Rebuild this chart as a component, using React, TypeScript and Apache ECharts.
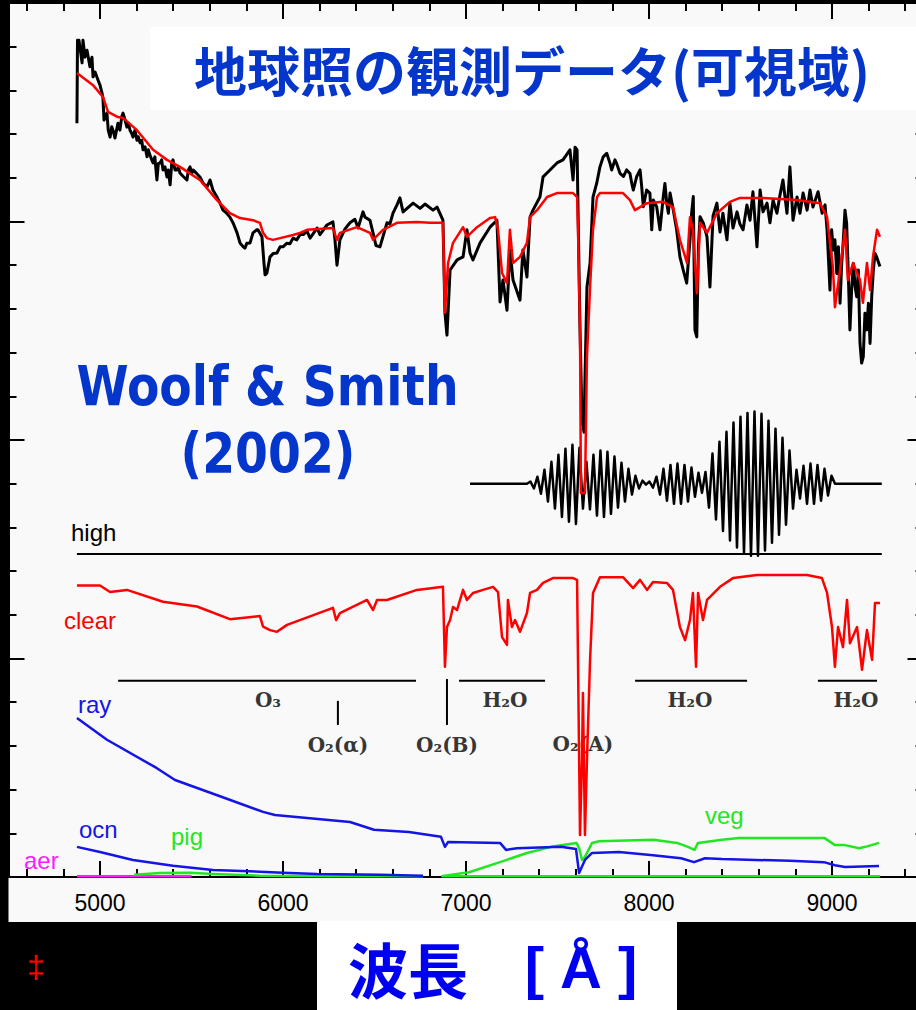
import React, { useEffect, useRef } from "react";
import * as echarts from "echarts";

// ---------- axes ----------
const X_MIN = 4500;
const X_MAX = 9500;
const xTickValues = [4600, 4800, 5000, 5200, 5400, 5600, 5800, 6000, 6200, 6400, 6600, 6800, 7000, 7200, 7400, 7600, 7800, 8000, 8200, 8400, 8600, 8800, 9000, 9200, 9400];
const xLabelValues = [5000, 6000, 7000, 8000, 9000];
const Y_MIN = 0;
const Y_MAX = 20;

// ---------- observed earthshine spectrum (black, top) ----------
const observed: [number, number][] = [
  [4874, 17.25], [4877, 19.15], [4885, 19.15], [4902, 18.63], [4907, 19.15], [4918, 18.76], [4929, 18.92], [4945, 18.54],
  [4956, 18.76], [4962, 18.31], [4973, 18.42], [4989, 18.24], [5000, 18.12], [5011, 17.94], [5016, 17.83], [5022, 17.32],
  [5038, 17.48], [5045, 17.09], [5055, 16.93], [5064, 17.17], [5071, 17.09], [5082, 16.91], [5098, 17.25], [5109, 17.09],
  [5119, 17.40], [5126, 17.48], [5137, 17.32], [5147, 17.16], [5155, 17.25], [5164, 17.09], [5173, 17.02], [5180, 16.93],
  [5191, 17.09], [5202, 16.86], [5209, 16.94], [5219, 16.80], [5228, 16.86], [5235, 16.64], [5246, 16.71], [5257, 16.48],
  [5264, 16.64], [5273, 16.52], [5283, 16.41], [5290, 16.34], [5300, 16.48], [5305, 16.22], [5311, 15.95], [5319, 16.33],
  [5328, 16.34], [5337, 16.41], [5344, 16.18], [5355, 16.25], [5366, 16.02], [5373, 16.18], [5383, 15.84], [5392, 16.33],
  [5399, 16.41], [5410, 16.18], [5421, 16.18], [5428, 16.25], [5437, 16.11], [5455, 16.03], [5475, 15.95], [5483, 16.18],
  [5492, 16.25], [5501, 16.10], [5508, 16.18], [5528, 16.10], [5546, 16.02], [5564, 15.87], [5585, 15.79], [5601, 15.95],
  [5617, 15.72], [5639, 15.56], [5656, 15.42], [5672, 15.26], [5692, 15.19], [5710, 15.10], [5728, 14.96], [5749, 14.74],
  [5765, 14.51], [5783, 14.42], [5792, 14.39], [5802, 14.50], [5820, 14.51], [5836, 14.74], [5856, 14.81], [5863, 14.81],
  [5874, 14.73], [5885, 14.65], [5896, 14.05], [5902, 13.78], [5912, 13.82], [5929, 14.19], [5947, 14.27], [5967, 14.28],
  [5984, 14.42], [6000, 14.42], [6020, 14.50], [6038, 14.49], [6055, 14.62], [6075, 14.58], [6093, 14.70], [6111, 14.70],
  [6131, 14.78], [6148, 14.62], [6186, 14.85], [6202, 14.70], [6240, 14.92], [6273, 14.99], [6284, 14.58], [6295, 14.00],
  [6311, 14.58], [6339, 14.83], [6366, 14.97], [6393, 15.05], [6410, 14.85], [6437, 15.22], [6448, 15.10], [6475, 15.03],
  [6492, 14.74], [6508, 14.45], [6530, 14.42], [6568, 14.97], [6585, 14.95], [6601, 15.19], [6623, 15.38], [6639, 15.54],
  [6656, 15.22], [6678, 15.30], [6711, 15.42], [6749, 15.30], [6776, 15.40], [6820, 15.26], [6842, 15.33], [6874, 15.03],
  [6885, 12.91], [6896, 12.40], [6913, 13.89], [6951, 14.12], [6984, 14.19], [7005, 14.81], [7022, 14.28], [7038, 14.12],
  [7077, 14.51], [7131, 14.87], [7169, 15.03], [7186, 13.16], [7202, 13.66], [7224, 12.97], [7240, 14.35], [7257, 13.66],
  [7295, 13.20], [7311, 14.35], [7333, 13.73], [7350, 15.10], [7366, 15.26], [7404, 15.56], [7421, 16.02], [7459, 16.18],
  [7497, 16.34], [7530, 16.41], [7568, 16.64], [7585, 15.95], [7596, 16.70], [7607, 16.64], [7612, 15.33], [7623, 12.52],
  [7634, 10.46], [7645, 10.18], [7650, 11.37], [7661, 13.50], [7678, 14.05], [7694, 15.56], [7714, 15.87], [7732, 16.25],
  [7750, 16.48], [7769, 16.56], [7787, 16.33], [7796, 16.18], [7814, 16.41], [7823, 16.33], [7842, 16.10], [7860, 16.03],
  [7878, 16.18], [7896, 16.10], [7906, 15.87], [7914, 15.72], [7933, 16.03], [7951, 16.18], [7960, 15.80], [7969, 15.34],
  [7987, 15.72], [8005, 15.65], [8015, 14.81], [8024, 15.49], [8042, 15.34], [8060, 14.81], [8078, 15.57], [8087, 15.87],
  [8097, 15.42], [8106, 15.19], [8115, 15.65], [8133, 15.26], [8151, 14.81], [8169, 14.19], [8187, 13.89], [8206, 13.59],
  [8224, 14.58], [8233, 15.19], [8242, 15.57], [8251, 12.52], [8261, 12.36], [8270, 14.42], [8279, 15.11], [8297, 14.96],
  [8317, 14.65], [8333, 13.50], [8350, 15.13], [8371, 15.42], [8388, 14.76], [8404, 15.19], [8426, 14.58], [8442, 15.42],
  [8459, 14.85], [8481, 15.22], [8497, 14.94], [8514, 14.81], [8535, 15.38], [8552, 15.03], [8568, 15.68], [8590, 14.42],
  [8607, 15.72], [8623, 15.22], [8645, 15.42], [8661, 14.97], [8678, 15.49], [8699, 15.19], [8716, 15.61], [8732, 15.95],
  [8754, 15.19], [8770, 16.25], [8787, 15.03], [8809, 15.56], [8825, 15.19], [8842, 15.65], [8864, 15.26], [8880, 15.72],
  [8896, 15.33], [8924, 15.68], [8946, 15.19], [8962, 15.38], [8973, 14.81], [8989, 13.43], [8998, 14.81], [9007, 14.35],
  [9016, 14.58], [9026, 13.81], [9035, 14.42], [9044, 13.13], [9053, 14.04], [9062, 14.58], [9071, 15.26], [9080, 14.96],
  [9089, 13.81], [9098, 12.52], [9108, 13.51], [9117, 14.04], [9126, 13.51], [9135, 13.28], [9144, 13.89], [9153, 12.21],
  [9162, 11.76], [9171, 11.91], [9180, 12.90], [9190, 12.52], [9199, 13.13], [9208, 12.21], [9217, 13.28], [9226, 13.89],
  [9235, 14.27], [9244, 14.19], [9262, 13.97],
];

// ---------- model fit (red, top) ----------
const model: [number, number][] = [
  [4874, 18.40], [4962, 18.12], [5016, 17.85], [5044, 17.51], [5098, 17.39], [5126, 17.37], [5202, 17.09], [5290, 16.64],
  [5366, 16.41], [5437, 16.25], [5546, 15.95], [5639, 15.49], [5710, 15.19], [5765, 15.08], [5836, 15.03], [5874, 14.97],
  [5891, 14.74], [5912, 14.62], [5945, 14.58], [5984, 14.62], [6055, 14.69], [6093, 14.74], [6131, 14.81], [6273, 14.85],
  [6295, 14.58], [6311, 14.74], [6404, 14.87], [6475, 14.74], [6492, 14.58], [6546, 14.81], [6623, 14.97], [6732, 14.99],
  [6803, 14.97], [6874, 14.97], [6885, 12.91], [6902, 14.05], [6929, 14.51], [6984, 14.87], [7005, 14.65], [7060, 14.87],
  [7131, 15.08], [7159, 15.10], [7175, 14.81], [7197, 13.82], [7224, 13.59], [7240, 14.81], [7257, 14.05], [7295, 14.19],
  [7333, 14.51], [7350, 15.10], [7388, 15.26], [7443, 15.56], [7497, 15.65], [7585, 15.65], [7607, 15.56], [7612, 14.81],
  [7623, 12.52], [7628, 8.79], [7650, 8.79], [7661, 11.90], [7678, 13.50], [7694, 14.81], [7716, 15.56], [7732, 15.65],
  [7858, 15.65], [7896, 15.49], [7923, 15.26], [7989, 15.42], [8076, 15.45], [8131, 15.33], [8169, 14.58], [8208, 14.05],
  [8224, 15.10], [8240, 14.81], [8262, 13.36], [8279, 14.97], [8317, 14.74], [8371, 15.19], [8442, 15.45], [8497, 15.54],
  [8623, 15.54], [8809, 15.49], [8934, 15.42], [8973, 15.10], [8989, 14.51], [9005, 13.96], [9016, 13.04], [9044, 13.89],
  [9071, 14.81], [9087, 13.66], [9115, 14.05], [9153, 13.66], [9169, 13.14], [9191, 14.05], [9208, 13.43], [9224, 14.19],
  [9246, 14.81], [9262, 14.65],
];

// ---------- fringe pattern (black, middle) ----------
const fringeBase = 9.0;
const fringeFlatStart = 7022;
const fringeFlatEnd = 9272;
const fringeStart = 7333;
const fringeStep = 19.13;
const fringeOffsets = [
  0, 0.05, -0.11, 0.16, -0.23, 0.32, -0.41, 0.5, -0.57, 0.66, -0.76, 0.8, -0.87, 0.89, -0.92, 0.82, -0.57, 0.5, -0.59, 0.66,
  -0.73, 0.76, -0.76, 0.73, -0.69, 0.62, -0.55, 0.48, -0.41, 0.34, -0.25, 0.18, -0.11, 0.07, -0.02, 0.05, -0.09, 0.16, -0.25,
  0.34, -0.39, 0.43, -0.46, 0.46, -0.46, 0.43, -0.41, 0.37, -0.3, 0.25, -0.21, 0.27, -0.55, 0.69, -0.82, 0.96, -1.08, 1.19,
  -1.3, 1.4, -1.46, 1.53, -1.58, 1.62, -1.65, 1.65, -1.65, 1.6, -1.53, 1.44, -1.35, 1.26, -1.17, 1.05, -0.94, 0.76, -0.57,
  0.32, -0.34, 0.41, -0.46, 0.46, -0.46, 0.43, -0.39, 0.34, -0.27, 0.18, 0,
];

// ---------- component spectra ----------
const high: [number, number][] = [[4874, 7.39], [9272, 7.39]];

const clear: [number, number][] = [
  [4874, 6.67], [5000, 6.67], [5055, 6.52], [5147, 6.57], [5344, 6.30], [5530, 6.19], [5710, 5.90], [5874, 5.97],
  [5891, 5.73], [5929, 5.65], [5967, 5.61], [6022, 5.77], [6273, 6.16], [6290, 5.88], [6311, 6.04], [6459, 6.34],
  [6492, 6.11], [6514, 6.34], [6568, 6.34], [6732, 6.57], [6874, 6.64], [6885, 4.81], [6896, 5.72], [6913, 5.88],
  [6929, 6.18], [6951, 6.11], [6984, 6.57], [7005, 6.34], [7038, 6.50], [7093, 6.57], [7148, 6.64], [7175, 6.52],
  [7197, 5.49], [7224, 5.31], [7229, 6.34], [7251, 5.72], [7268, 5.88], [7295, 5.61], [7333, 6.04], [7350, 6.50],
  [7388, 6.57], [7421, 6.73], [7475, 6.84], [7585, 6.84], [7607, 6.80], [7612, 4.97], [7623, 0.96], [7634, 2.68],
  [7639, 4.21], [7650, 0.96], [7661, 2.68], [7678, 4.97], [7694, 6.50], [7732, 6.86], [7858, 6.86], [7913, 6.61],
  [7951, 6.80], [7989, 6.57], [8022, 6.75], [8098, 6.73], [8131, 6.57], [8169, 5.72], [8197, 5.42], [8224, 5.88],
  [8240, 6.50], [8257, 4.81], [8268, 6.50], [8295, 5.88], [8317, 6.34], [8388, 6.64], [8459, 6.84], [8590, 6.91],
  [8863, 6.91], [8945, 6.84], [8973, 6.50], [9000, 5.72], [9016, 4.81], [9033, 5.72], [9060, 5.26], [9082, 6.34],
  [9098, 5.35], [9137, 5.72], [9164, 4.74], [9191, 5.65], [9219, 4.97], [9235, 6.27], [9262, 6.27],
];

const ray: [number, number][] = [
  [4874, 3.64], [5038, 3.14], [5311, 2.49], [5410, 2.22], [5667, 1.83], [5891, 1.49], [5956, 1.42], [6366, 1.26],
  [6497, 1.08], [6688, 1.03], [6863, 0.92], [6885, 0.69], [6902, 0.80], [7186, 0.78], [7219, 0.62], [7279, 0.66],
  [7519, 0.69], [7601, 0.64], [7618, 0.09], [7650, 0.39], [7689, 0.55], [7836, 0.57], [8022, 0.50], [8175, 0.43],
  [8246, 0.34], [8306, 0.43], [8399, 0.41], [8770, 0.37], [8956, 0.34], [9016, 0.27], [9071, 0.23], [9257, 0.25],
];

const ocn: [number, number][] = [
  [4874, 0.69], [5000, 0.57], [5180, 0.39], [5399, 0.26], [5617, 0.16], [6000, 0.10], [6186, 0.07], [6530, 0.05], [6765, 0.03],
];

const pig: ([number, number] | null)[] = [
  [5186, 0.05], [5328, 0.09], [5492, 0.10], [5617, 0.07], [5874, 0.03], [6257, 0.02], [6765, 0.02], null,
  [6866, 0.02], [9262, 0.02],
];

const veg: [number, number][] = [
  [6866, 0.02], [7017, 0.11], [7186, 0.34], [7333, 0.55], [7465, 0.69], [7604, 0.78], [7618, 0.66], [7634, 0.39],
  [7650, 0.46], [7689, 0.78], [7727, 0.82], [8025, 0.85], [8153, 0.78], [8213, 0.69], [8249, 0.62], [8268, 0.78],
  [8399, 0.85], [8492, 0.89], [8960, 0.89], [9016, 0.73], [9071, 0.73], [9148, 0.66], [9183, 0.69], [9257, 0.78],
];

const aer: [number, number][] = [[4874, 0.02], [5200, 0.02], [5500, 0.02]];

// ---------- absorption band markers ----------
const bandLevel = 4.49;
const bandSegments: [number, number][] = [[5099, 6727], [6962, 7432], [7924, 8536], [8923, 9246]];
const bandTicks: [number, number, number][] = [[6300, 4.03, 3.48], [6896, 4.53, 3.48]];
const bandLabelText = ["O₃", "O₂(α)", "O₂(B)", "H₂O", "O₂(A)", "H₂O", "H₂O"];
const bandLabelWl = [5918, 6300, 6896, 7213, 7639, 8224, 9131];
const bandLabelV = [4.05, 3.02, 3.02, 4.05, 3.05, 4.05, 4.05];

// ---------- colours ----------
const BLACK = "#000000";
const RED = "#ff0000";
const BLUE = "#1414e6";
const GREEN = "#22e622";
const MAGENTA = "#ff1aff";
const TITLE_BLUE = "#0536cc";

const lineSeries = (name: string, data: any[], color: string, width = 2.5, z = 2) => ({
  type: "line",
  name,
  data,
  xAxisIndex: 0,
  yAxisIndex: 0,
  showSymbol: false,
  symbol: "none",
  connectNulls: false,
  silent: true,
  z,
  lineStyle: { color, width, join: "round" },
  itemStyle: { color },
});

const xAx = (position: string, ticks: number[], len: number, line: boolean, labels: boolean) => ({
  type: "value",
  position,
  min: X_MIN,
  max: X_MAX,
  axisLine: { show: line, onZero: false, lineStyle: { color: BLACK, width: 2 } },
  axisTick: { show: true, inside: true, length: len, customValues: ticks, lineStyle: { color: BLACK, width: 2 } },
  axisLabel: {
    show: labels,
    customValues: xLabelValues,
    formatter: (v: number) => String(v),
    color: BLACK,
    fontSize: 23,
    fontFamily: "Liberation Sans, Arial, sans-serif",
    margin: 14,
  },
  splitLine: { show: false },
});

const yAx = (position: string, interval: number, len: number, line: boolean) => ({
  type: "value",
  position,
  min: Y_MIN,
  max: Y_MAX,
  interval,
  axisLine: { show: line, onZero: false, lineStyle: { color: BLACK, width: 2 } },
  axisTick: { show: true, inside: true, length: len, lineStyle: { color: BLACK, width: 2 } },
  axisLabel: { show: false },
  splitLine: { show: false },
});

const label = (text: string, x: number, y: number, fill: string) => ({
  type: "text",
  x,
  y,
  z: 5,
  style: {
    text,
    fill,
    fontSize: 24,
    fontFamily: "Liberation Sans, Arial, sans-serif",
    align: "left",
    verticalAlign: "middle",
  },
});

export default function App() {
  const ref = useRef<HTMLDivElement>(null);

  useEffect(() => {
    document.body.style.margin = "0";
    document.body.style.background = "#000";
    const chart = echarts.init(ref.current!, null, { renderer: "svg" });

    const fringeData: [number, number][] = [[fringeFlatStart, fringeBase]];
    fringeOffsets.forEach((o, i) => fringeData.push([fringeStart + i * fringeStep, fringeBase + o]));
    fringeData.push([fringeFlatEnd, fringeBase]);

    const bandSeries = bandSegments.map((s, i) =>
      lineSeries("band" + i, [[s[0], bandLevel], [s[1], bandLevel]], BLACK, 2, 2)
    );
    const tickSeries = bandTicks.map((t, i) => lineSeries("tick" + i, [[t[0], t[1]], [t[0], t[2]]], BLACK, 2, 2));

    const option: any = {
      animation: false,
      backgroundColor: "#000",
      grid: { left: 8.5, right: -7.5, top: 3, bottom: 133, containLabel: false, outerBoundsMode: "none" },
      xAxis: [
        xAx("bottom", xTickValues, 8, true, true),
        xAx("bottom", xLabelValues, 16, false, false),
        xAx("top", xTickValues, 8, true, false),
        xAx("top", xLabelValues, 16, false, false),
      ],
      yAxis: [yAx("left", 1, 8, true), yAx("left", 5, 16, false), yAx("right", 1, 8, true), yAx("right", 5, 16, false)],
      graphic: [
        { type: "rect", z: -1, shape: { x: 8.5, y: 3, width: 908, height: 919 }, style: { fill: "#f9f9f9" } },
        { type: "rect", z: 1, shape: { x: 150, y: 27, width: 766, height: 83 }, style: { fill: "#ffffff" } },
        { type: "rect", z: 1, shape: { x: 317, y: 921, width: 360, height: 89 }, style: { fill: "#ffffff" } },
        {
          type: "text",
          x: 194,
          y: 69,
          z: 6,
          style: {
            text: "地球照の観測データ(可視域)",
            fill: TITLE_BLUE,
            fontSize: 53,
            fontWeight: "bold",
            fontFamily: "Noto Sans CJK JP, sans-serif",
            align: "left",
            verticalAlign: "middle",
          },
        },
        {
          type: "text",
          x: 267.5,
          y: 386,
          z: 6,
          scaleX: 0.86,
          style: {
            text: "Woolf & Smith",
            fill: TITLE_BLUE,
            fontSize: 55,
            fontWeight: "bold",
            fontFamily: "DejaVu Sans, sans-serif",
            align: "center",
            verticalAlign: "middle",
          },
        },
        {
          type: "text",
          x: 268,
          y: 453,
          z: 6,
          scaleX: 0.86,
          style: {
            text: "(2002)",
            fill: TITLE_BLUE,
            fontSize: 55,
            fontWeight: "bold",
            fontFamily: "DejaVu Sans, sans-serif",
            align: "center",
            verticalAlign: "middle",
          },
        },
        {
          type: "text",
          x: 348,
          y: 967,
          z: 6,
          style: {
            text: "波長",
            fill: "#0000f0",
            fontSize: 60,
            fontWeight: "bold",
            fontFamily: "Noto Sans CJK JP, sans-serif",
            align: "left",
            verticalAlign: "middle",
          },
        },
        {
          type: "text",
          x: 581,
          y: 967,
          z: 6,
          style: {
            text: "[ Å ]",
            fill: "#0000f0",
            fontSize: 58,
            fontWeight: "bold",
            fontFamily: "Liberation Sans, Arial, sans-serif",
            align: "center",
            verticalAlign: "middle",
          },
        },
        {
          type: "text",
          x: 36,
          y: 967,
          z: 6,
          style: {
            text: "‡",
            fill: RED,
            fontSize: 32,
            fontFamily: "Liberation Sans, Arial, sans-serif",
            align: "center",
            verticalAlign: "middle",
          },
        },
        label("high", 71, 532, BLACK),
        label("clear", 64, 620, RED),
        label("ray", 78, 704, BLUE),
        label("ocn", 79, 829, BLUE),
        label("pig", 171, 836, GREEN),
        label("veg", 705, 815, GREEN),
        label("aer", 24, 860, MAGENTA),
      ],
      series: [
        lineSeries("observed", observed, BLACK, 3, 3),
        lineSeries("model", model, RED, 2.5, 4),
        lineSeries("fringe", fringeData, BLACK, 2.5, 3),
        lineSeries("high", high, BLACK, 2, 3),
        ...bandSeries,
        ...tickSeries,
        {
          type: "scatter",
          name: "bandLabels",
          xAxisIndex: 0,
          yAxisIndex: 0,
          z: 2,
          silent: true,
          symbolSize: 1,
          itemStyle: { color: "rgba(0,0,0,0)" },
          data: bandLabelText.map((t, i) => ({ name: t, value: [bandLabelWl[i], bandLabelV[i]] })),
          label: {
            show: true,
            position: "inside",
            formatter: "{b}",
            color: BLACK,
            fontSize: 20,
            fontWeight: "bold",
            fontFamily: "DejaVu Serif, serif",
          },
        },
        lineSeries("clear", clear, RED, 2.5, 4),
        lineSeries("aer", aer, MAGENTA, 2.5, 3),
        lineSeries("pig", pig, GREEN, 2.5, 3),
        lineSeries("ocn", ocn, BLUE, 2.5, 4),
        lineSeries("veg", veg, GREEN, 2.5, 4),
        lineSeries("ray", ray, BLUE, 2.5, 5),
      ],
    };
    chart.setOption(option);
    return () => chart.dispose();
  }, []);

  return <div ref={ref} style={{ position: "absolute", left: 0, top: 0, width: 916, height: 1010 }} />;
}
